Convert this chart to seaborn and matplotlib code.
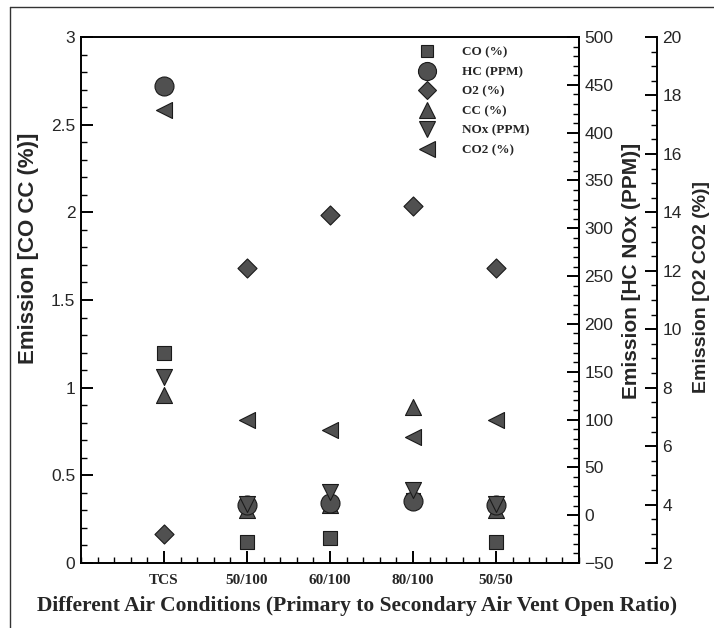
import numpy as np
import pandas as pd
import matplotlib
matplotlib.use("Agg")
import matplotlib.pyplot as plt
from matplotlib.ticker import MultipleLocator
from matplotlib.lines import Line2D
import seaborn as sns

categories = ["TCS", "50/100", "60/100", "80/100", "50/50"]
co_pct = [1.20, 0.12, 0.14, 0.36, 0.12]
cc_pct = [0.96, 0.30, 0.33, 0.89, 0.30]
hc_ppm = [449, 11, 13, 15, 11]
nox_ppm = [145, 12, 24, 26, 12]
o2_pct = [3.0, 12.1, 13.9, 14.2, 12.1]
co2_pct = [17.5, 6.9, 6.55, 6.3, 6.9]

sns.set_theme(style="white")
plt.rcParams["font.family"] = ["Liberation Sans", "DejaVu Sans"]

W, H = 714, 628
fig = plt.figure(figsize=(W / 100, H / 100), dpi=100)
ax = fig.add_axes([81 / W, 1 - 563 / H, (579 - 81) / W, (563 - 37) / H])
ax2 = ax.twinx()
ax3 = ax.twinx()
ax3.spines["right"].set_position(("axes", (657 - 81) / (579 - 81)))

x = np.arange(1, len(categories) + 1)
face = "#505050"
edge = "#1a1a1a"

def pts(px):
    return px * 0.72

series = [
    (ax, co_pct, "s", pts(13.5), "CO (%)"),
    (ax2, hc_ppm, "o", pts(19), "HC (PPM)"),
    (ax3, o2_pct, "D", pts(13.5), "O2 (%)"),
    (ax, cc_pct, "^", pts(16), "CC (%)"),
    (ax2, nox_ppm, "v", pts(16), "NOx (PPM)"),
    (ax3, co2_pct, "<", pts(16), "CO2 (%)"),
]
handles = []
for a, vals, m, ms, lab in series:
    df = pd.DataFrame({"x": x, "y": vals})
    sns.scatterplot(data=df, x="x", y="y", ax=a, marker=m, s=ms ** 2,
                    color=face, edgecolor=edge, linewidth=0.8, zorder=3)
    handles.append(Line2D([], [], linestyle="none", marker=m, markersize=ms * 0.95,
                          markerfacecolor=face, markeredgecolor=edge,
                          markeredgewidth=0.8, label=lab))

# axis limits and ticks
ax.set_xlim(0, 6)
ax.set_ylim(0, 3)
ax2.set_ylim(-50, 500)
ax3.set_ylim(2, 20)

ax.set_xticks(x)
ax.set_xticklabels(categories, fontfamily="Liberation Serif", fontweight="bold", fontsize=11)
ax.xaxis.set_minor_locator(MultipleLocator(0.2))
ax.set_yticks(np.arange(0, 3.01, 0.5))
ax.set_yticklabels(["0", "0.5", "1", "1.5", "2", "2.5", "3"])
ax.yaxis.set_minor_locator(MultipleLocator(0.1))
ax2.yaxis.set_major_locator(MultipleLocator(50))
ax2.yaxis.set_minor_locator(MultipleLocator(10))
ax3.yaxis.set_major_locator(MultipleLocator(2))
ax3.yaxis.set_minor_locator(MultipleLocator(0.5))

for a in (ax, ax2, ax3):
    a.tick_params(which="major", direction="in", length=8.5, width=1.4, color="black",
                  labelsize=12.5, pad=4)
    a.tick_params(which="minor", direction="in", length=4.3, width=1.0, color="black")
    for s in a.spines.values():
        s.set_color("black")
        s.set_linewidth(1.4)
ax.tick_params(axis="x", which="major", labelsize=11, pad=8)
ax.tick_params(axis="x", which="both", top=False, bottom=True)
ax.tick_params(axis="y", which="both", left=True, right=False)
ax2.tick_params(axis="y", which="both", right=True, left=False)
ax3.tick_params(axis="y", which="both", right=True, left=False)
for a in (ax2, ax3):
    a.spines["left"].set_visible(False)
    a.spines["top"].set_visible(False)
    a.spines["bottom"].set_visible(False)
ax3.spines["right"].set_visible(True)

ax.set_xlabel("Different Air Conditions (Primary to Secondary Air Vent Open Ratio)",
              fontfamily="Liberation Serif", fontweight="bold", fontsize=15.5)
ax.xaxis.set_label_coords(0.554, -0.062)
ax.set_ylabel("Emission [CO CC (%)]", fontweight="bold", fontsize=16)
ax.yaxis.set_label_coords(-0.085, 0.599)
ax2.set_ylabel("Emission [HC NOx (PPM)]", fontweight="bold", fontsize=15)
ax2.yaxis.set_label_coords(1.086, 0.555)
ax3.set_ylabel("Emission [O2 CO2 (%)]", fontweight="bold", fontsize=14)
ax3.yaxis.set_label_coords(1.229, 0.525)

leg = ax.legend(handles=handles, loc="upper left", bbox_to_anchor=(0.675, 0.982),
                frameon=False, borderpad=0, borderaxespad=0, handlelength=1.5,
                handletextpad=1.9, labelspacing=0.55,
                prop={"family": "Liberation Serif", "weight": "bold", "size": 9.5})

# outer border (left and top)
fig.add_artist(Line2D([10 / W, 10 / W], [0, 1 - 7 / H], color="#333333", lw=1.0))
fig.add_artist(Line2D([10 / W, 1], [1 - 7 / H, 1 - 7 / H], color="#333333", lw=1.0))

fig.savefig("out.png", dpi=100)
